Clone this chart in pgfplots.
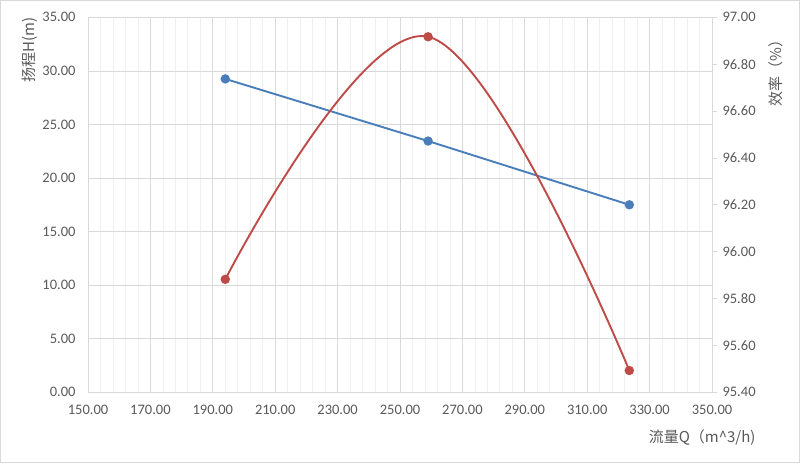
\documentclass[border=0pt]{standalone}
\usepackage{pgfplots}
\pgfplotsset{compat=1.18}
\usepackage{fontspec}
\setmainfont{Carlito}
\newfontfamily\cjk{Noto Sans CJK SC}
\definecolor{txt}{HTML}{595959}
\definecolor{grid}{HTML}{D9D9D9}
\definecolor{mgrid}{HTML}{F0F0F0}
\definecolor{blueS}{HTML}{4A7EBB}
\definecolor{redS}{HTML}{BE4B48}
\begin{document}
\begin{tikzpicture}
\useasboundingbox (0pt,0pt) rectangle (800pt,463pt);
\draw[color=grid,line width=0.8pt] (0.6pt,0.6pt) rectangle (799.4pt,462.4pt);
\begin{axis}[
  at={(88pt,70.7pt)}, anchor=south west,
  scale only axis, width=624pt, height=375pt,
  xmin=150, xmax=350, ymin=0, ymax=35,
  xtick={150,170,...,350}, ytick distance=5,
  minor x tick num=4,
  xmajorgrids, ymajorgrids, xminorgrids,
  major grid style={color=grid, line width=0.7pt},
  minor grid style={color=mgrid, line width=0.7pt},
  axis x line*=bottom, axis y line*=left,
  x axis line style={color=grid, line width=0.8pt, -},
  y axis line style={draw=none},
  major tick length=0pt, minor tick length=0pt,
  tick style={draw=none},
  /pgf/number format/assume math mode=true,
  /pgf/number format/.cd, fixed, fixed zerofill, precision=2, /tikz/.cd,
  tick label style={font=\fontsize{14.5}{16}\selectfont, color=txt},
  yticklabel style={xshift=-9pt},
  xticklabel style={yshift=-9pt},
  clip=false,
]
\addplot[color=blueS, line width=1.9pt, mark=*, mark size=3.7pt, mark options={fill=blueS, draw=blueS}]
  coordinates {(194,29.25) (259,23.45) (323.5,17.5)};
\end{axis}
\begin{axis}[
  at={(88pt,70.7pt)}, anchor=south west,
  scale only axis, width=624pt, height=375pt,
  xmin=150, xmax=350, ymin=95.4, ymax=97,
  ytick distance=0.2,
  axis x line=none, axis y line*=right,
  y axis line style={color=grid, line width=0.8pt, -},
  ytick style={color=grid, line width=0.8pt},
  tick align=outside, major tick length=5pt,
  /pgf/number format/assume math mode=true,
  /pgf/number format/.cd, fixed, fixed zerofill, precision=2, /tikz/.cd,
  tick label style={font=\fontsize{14.5}{16}\selectfont, color=txt},
  yticklabel style={xshift=2pt},
  clip=false,
]
\addplot[color=redS, line width=1.9pt, smooth, tension=0.62, mark=*, mark size=3.7pt, mark options={fill=redS, draw=redS}]
  coordinates {(194,95.882) (259,96.917) (323.5,95.493)};
\end{axis}
\node[rotate=90, anchor=east, color=txt, font=\cjk\fontsize{15}{17}\selectfont] at (30pt,449pt) {扬程H(m)};
\node[rotate=90, anchor=east, color=txt, font=\cjk\fontsize{15}{17}\selectfont] at (776pt,434pt) {效率（\%）};
\node[anchor=east, color=txt, font=\cjk\fontsize{15}{17}\selectfont] at (759pt,25pt) {流量Q（m\textasciicircum 3/h)};
\end{tikzpicture}
\end{document}
